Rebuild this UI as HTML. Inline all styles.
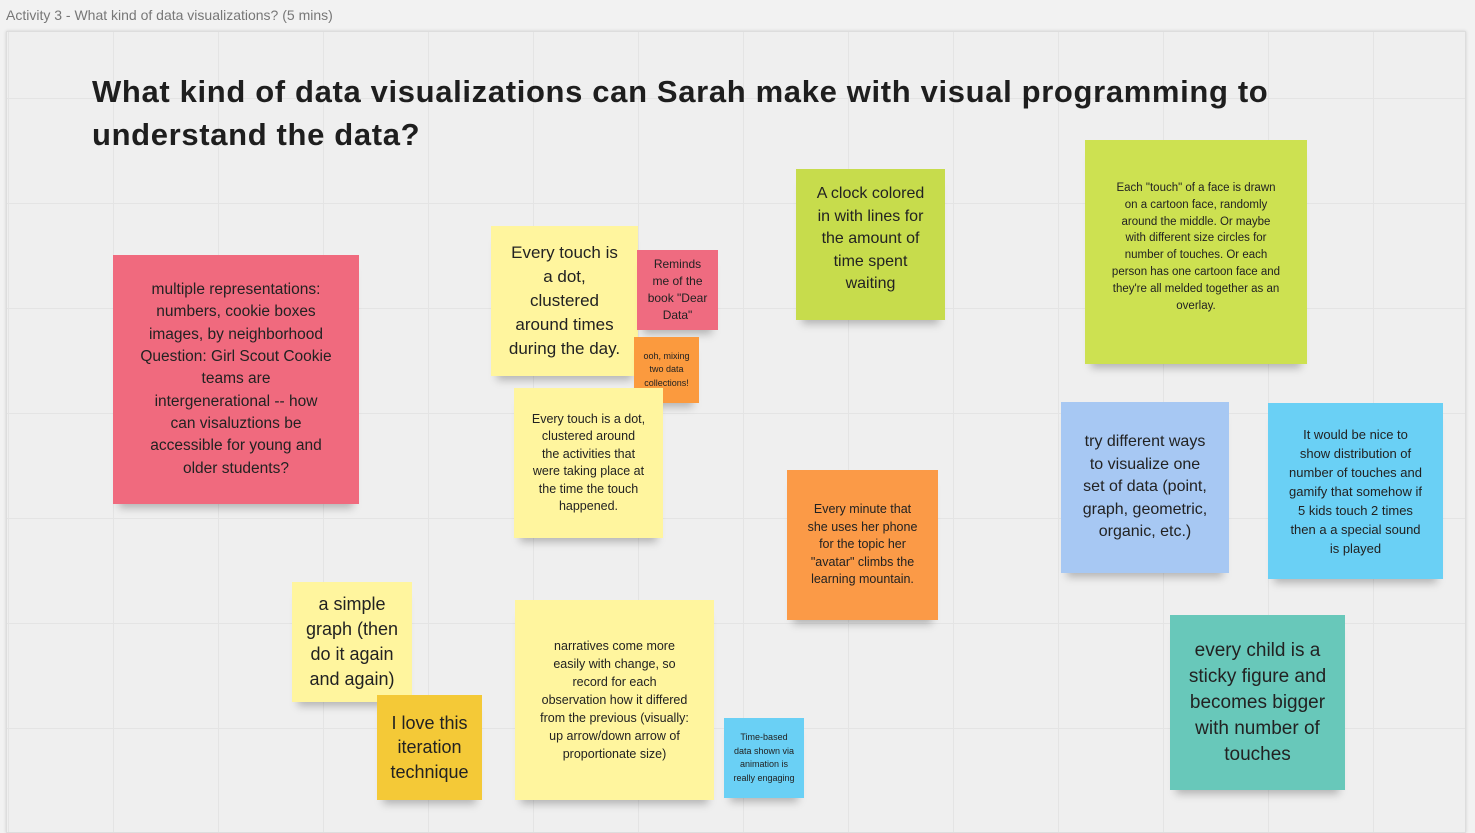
<!DOCTYPE html>
<html><head><meta charset="utf-8"><style>
body{margin:0;width:1475px;height:818px;overflow:hidden;background:#f2f2f2;font-family:"Liberation Sans",sans-serif;position:relative}
.hdr{position:absolute;left:6px;top:7px;font-size:14px;color:#777}
.frame{position:absolute;left:6px;top:31px;width:1458px;height:800px;border:1px solid #ddd;box-shadow:0 0 3px rgba(0,0,0,.15);
background-color:#efefef;background-image:linear-gradient(#e4e4e4 1px,transparent 1px),linear-gradient(90deg,#e4e4e4 1px,transparent 1px);background-size:105px 105px;background-position:-1px 66px,1px 0}
h1{position:absolute;left:92px;top:70px;margin:0;font-size:31px;line-height:43px;font-weight:bold;color:#1e1e1e;width:1250px;letter-spacing:0.65px}
.n{position:absolute;display:flex;align-items:center;justify-content:center;text-align:center;color:#222;box-sizing:border-box;padding:4px;white-space:nowrap;box-shadow:0 10px 8px -6px rgba(0,0,0,.25)}
.y{background:#fff59e}
</style></head><body>
<div class="hdr">Activity 3 - What kind of data visualizations? (5 mins)</div>
<div class="frame"></div>
<h1>What kind of data visualizations can Sarah make with visual programming to understand the data?</h1>
<div class="n" style="left:113px;top:255px;width:246px;height:249px;background:#f06a7e;font-size:15.5px;line-height:22.3px">multiple representations:<br>numbers, cookie boxes<br>images, by neighborhood<br>Question: Girl Scout Cookie<br>teams are<br>intergenerational -- how<br>can visaluztions be<br>accessible for young and<br>older students?</div>
<div class="n y" style="left:491px;top:226px;width:147px;height:150px;font-size:17px;line-height:24px">Every touch is<br>a dot,<br>clustered<br>around times<br>during the day.</div>
<div class="n" style="left:637px;top:250px;width:81px;height:80px;background:#ef6b80;font-size:12px;line-height:17px">Reminds<br>me of the<br>book "Dear<br>Data"</div>
<div class="n" style="left:634px;top:337px;width:65px;height:66px;background:#fb9a3e;font-size:9px;line-height:13.5px">ooh, mixing<br>two data<br>collections!</div>
<div class="n y" style="left:514px;top:388px;width:149px;height:150px;font-size:12.5px;line-height:17.5px">Every touch is a dot,<br>clustered around<br>the activities that<br>were taking place at<br>the time the touch<br>happened.</div>
<div class="n" style="left:796px;top:169px;width:149px;height:151px;background:#c7dc4c;font-size:16px;line-height:22.5px;align-items:flex-start;padding-top:14px">A clock colored<br>in with lines for<br>the amount of<br>time spent<br>waiting</div>
<div class="n" style="left:1085px;top:140px;width:222px;height:224px;background:#cde151;font-size:11.5px;line-height:16.8px;align-items:flex-start;padding-top:40px">Each "touch" of a face is drawn<br>on a cartoon face, randomly<br>around the middle. Or maybe<br>with different size circles for<br>number of touches. Or each<br>person has one cartoon face and<br>they're all melded together as an<br>overlay.</div>
<div class="n" style="left:1061px;top:402px;width:168px;height:171px;background:#a7c8f3;font-size:16px;line-height:22.5px">try different ways<br>to visualize one<br>set of data (point,<br>graph, geometric,<br>organic, etc.)</div>
<div class="n" style="left:1268px;top:403px;width:175px;height:176px;background:#6ad0f5;font-size:13px;line-height:19px">It would be nice to<br>show distribution of<br>number of touches and<br>gamify that somehow if<br>5 kids touch 2 times<br>then a a special sound<br>is played</div>
<div class="n" style="left:787px;top:470px;width:151px;height:150px;background:#fb9a47;font-size:12.5px;line-height:17.5px">Every minute that<br>she uses her phone<br>for the topic her<br>"avatar" climbs the<br>learning mountain.</div>
<div class="n y" style="left:292px;top:582px;width:120px;height:120px;font-size:18px;line-height:25px">a simple<br>graph (then<br>do it again<br>and again)</div>
<div class="n" style="left:377px;top:695px;width:105px;height:105px;background:#f4c937;font-size:18px;line-height:24.5px">I love this<br>iteration<br>technique</div>
<div class="n y" style="left:515px;top:600px;width:199px;height:200px;font-size:12.5px;line-height:18px">narratives come more<br>easily with change, so<br>record for each<br>observation how it differed<br>from the previous (visually:<br>up arrow/down arrow of<br>proportionate size)</div>
<div class="n" style="left:724px;top:718px;width:80px;height:80px;background:#6ad0f5;font-size:9px;line-height:13.5px">Time-based<br>data shown via<br>animation is<br>really engaging</div>
<div class="n" style="left:1170px;top:615px;width:175px;height:175px;background:#68c8ba;font-size:19px;line-height:26px">every child is a<br>sticky figure and<br>becomes bigger<br>with number of<br>touches</div>
</body></html>
